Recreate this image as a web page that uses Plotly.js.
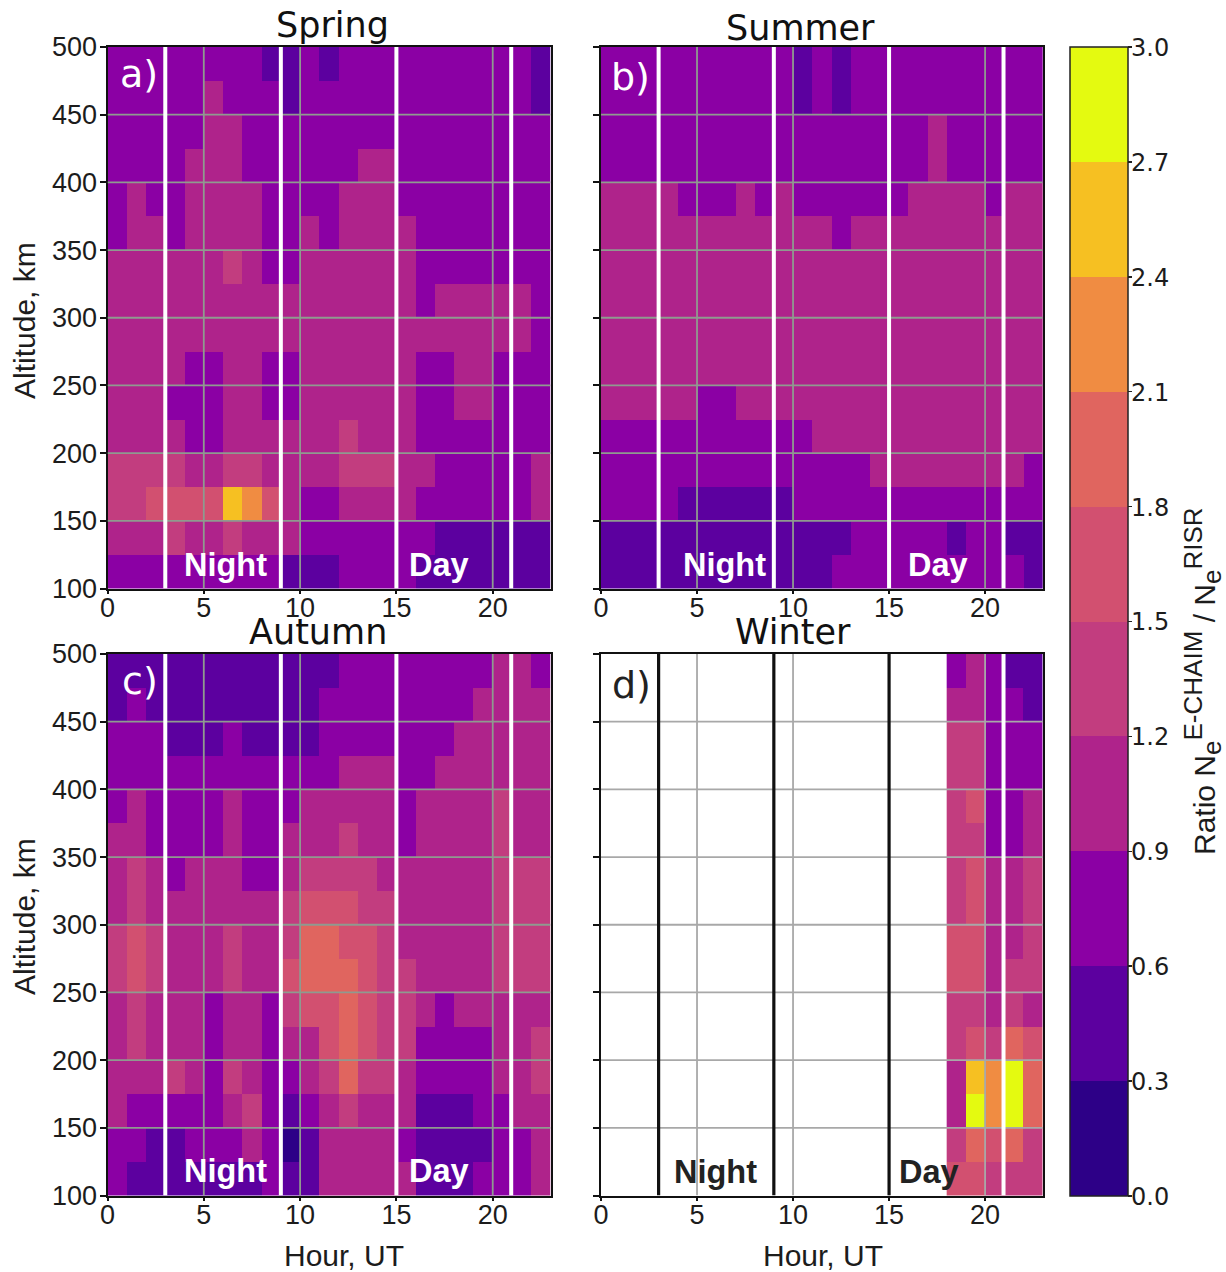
<!DOCTYPE html>
<html>
<head>
<meta charset="utf-8">
<script src="https://cdn.plot.ly/plotly-3.0.1.min.js"></script>
<style>html,body{margin:0;padding:0;background:#fff;overflow:hidden}</style>
</head>
<body>
<div id="chart" style="width:1226px;height:1272px"></div>
<script>
// cell edges
const hourEdges = [0,1,2,3,4,5,6,7,8,9,10,11,12,13,14,15,16,17,18,19,20,21,22,23];
const winterHourEdges = [18,19,20,21,22,23];
const altEdges = [500,475,450,425,400,375,350,325,300,275,250,225,200,175,150,125,100];
const hourTicks = [0,5,10,15,20];
const altTicks = [100,150,200,250,300,350,400,450,500];
const dayNightLines = [3,9,15,20.96];
const ratioTicks = [0,0.3,0.6,0.9,1.2,1.5,1.8,2.1,2.4,2.7,3.0];
const bandColors = ['#2d0087','#5c009f','#8b00a4','#af238b','#c23d7f','#d25070','#e0655f','#f08c42','#f6c022','#e4fa10'];

// ratio per altitude band (top row = 475-500 km), per hour
const spring = [
[.7,.7,.7,.7,.7,.7,.7,.7,.4,.4,.7,.4,.7,.7,.7,.7,.7,.7,.7,.7,.7,.7,.4],
[.7,.7,.7,.7,.7,1,.7,.7,.7,.4,.7,.7,.7,.7,.7,.7,.7,.7,.7,.7,.7,.7,.4],
[.7,.7,.7,.7,.7,1,1,.7,.7,.7,.7,.7,.7,.7,.7,.7,.7,.7,.7,.7,.7,.7,.7],
[.7,.7,.7,.7,1,1,1,.7,.7,.7,.7,.7,.7,1,1,.7,.7,.7,.7,.7,.7,.7,.7],
[.7,1,.7,.7,1,1,1,1,.7,.7,.7,.7,1,1,1,.7,.7,.7,.7,.7,.7,.7,.7],
[.7,1,1,.7,1,1,1,1,.7,.7,1,.7,1,1,1,1,.7,.7,.7,.7,.7,.7,.7],
[1,1,1,1,1,1,1.3,1,.7,.7,1,1,1,1,1,1,.7,.7,.7,.7,.7,.7,.7],
[1,1,1,1,1,1,1,1,1,1,1,1,1,1,1,1,.7,1,1,1,1,1,.7],
[1,1,1,1,1,1,1,1,1,1,1,1,1,1,1,1,1,1,1,1,1,1,.7],
[1,1,1,1,.7,.7,1,1,.7,.7,1,1,1,1,1,1,.7,.7,1,1,.7,.7,.7],
[1,1,1,.7,.7,.7,1,1,.7,.7,1,1,1,1,1,1,.7,.7,1,1,.7,.7,.7],
[1,1,1,1,.7,.7,1,1,1,1,1,1,1.3,1,1,1,.7,.7,.7,.7,.7,.7,.7],
[1.3,1.3,1.3,1.3,1,1,1.3,1.3,1,1,1,1,1.3,1.3,1.3,1,1,.7,.7,.7,.7,.7,1],
[1.3,1.3,1.6,1.6,1.6,1.6,2.5,2.2,1.6,1,.7,.7,1,1,1,1,.7,.7,.7,.7,.7,.7,1],
[1,1,1,1.3,1,1,1.3,1,1,1,.7,.7,.7,.7,.7,.7,.7,.4,.4,.4,.4,.4,.4],
[.7,.7,.7,.7,.7,.7,.7,.7,.7,.4,.4,.4,.7,.7,.7,.7,.4,.4,.4,.4,.4,.4,.4]
];
const summer = [
[.7,.7,.7,.7,.7,.7,.7,.7,.7,.7,.4,.7,.4,.7,.7,.7,.7,.7,.7,.7,.7,.7,.7],
[.7,.7,.7,.7,.7,.7,.7,.7,.7,.7,.4,.7,.4,.7,.7,.7,.7,.7,.7,.7,.7,.7,.7],
[.7,.7,.7,.7,.7,.7,.7,.7,.7,.7,.7,.7,.7,.7,.7,.7,.7,1,.7,.7,.7,.7,.7],
[.7,.7,.7,.7,.7,.7,.7,.7,.7,.7,.7,.7,.7,.7,.7,.7,.7,1,.7,.7,.7,.7,.7],
[1,1,1,1,.7,.7,.7,1,.7,1,.7,.7,.7,.7,.7,.7,1,1,1,1,.7,1,1],
[1,1,1,1,1,1,1,1,1,1,1,1,.7,1,1,1,1,1,1,1,1,1,1],
[1,1,1,1,1,1,1,1,1,1,1,1,1,1,1,1,1,1,1,1,1,1,1],
[1,1,1,1,1,1,1,1,1,1,1,1,1,1,1,1,1,1,1,1,1,1,1],
[1,1,1,1,1,1,1,1,1,1,1,1,1,1,1,1,1,1,1,1,1,1,1],
[1,1,1,1,1,1,1,1,1,1,1,1,1,1,1,1,1,1,1,1,1,1,1],
[1,1,1,1,1,.7,.7,1,1,1,1,1,1,1,1,1,1,1,1,1,1,1,1],
[.7,.7,.7,.7,.7,.7,.7,.7,.7,.7,.7,1,1,1,1,1,1,1,1,1,1,1,1],
[.7,.7,.7,.7,.7,.7,.7,.7,.7,.7,.7,.7,.7,.7,1,1,1,1,1,1,1,1,.7],
[.7,.7,.7,.7,.4,.4,.4,.4,.4,.4,.7,.7,.7,.7,.7,.7,.7,.7,.7,.7,.7,.7,.7],
[.4,.4,.4,.4,.4,.4,.4,.4,.4,.4,.4,.4,.4,.7,.7,.7,.7,.7,.4,.7,.7,.4,.4],
[.4,.4,.4,.4,.4,.4,.4,.4,.4,.4,.4,.4,.7,.7,.7,.7,.7,.7,.7,.7,.7,.7,.4]
];
const autumn = [
[.4,.4,.4,.4,.4,.4,.4,.4,.4,.4,.4,.4,.7,.7,.7,.7,.7,.7,.7,.7,1,1,.7],
[.4,.7,.4,.4,.4,.4,.4,.4,.4,.4,.4,.7,.7,.7,.7,.7,.7,.7,.7,1,1,1,1],
[.7,.7,.7,.4,.4,.4,.7,.4,.4,.4,.4,.7,.7,.7,.7,.7,.7,.7,1,1,1,1,1],
[.7,.7,.7,.7,.7,.7,.7,.7,.7,.7,.7,.7,1,1,1,.7,.7,1,1,1,1,1,1],
[.7,1,.7,.7,.7,.7,1,.7,.7,.7,1,1,1,1,1,.7,1,1,1,1,1.3,1,1],
[1,1,.7,.7,.7,.7,1,.7,.7,1,1,1,1.3,1,1,.7,1,1,1,1,1.3,1,1],
[1,1.3,1,.7,1,1,1,.7,.7,1,1.3,1.3,1.3,1.3,1,1,1,1,1,1,1.3,1.3,1.3],
[1,1.3,1,1,1,1,1,1,1,1.3,1.6,1.6,1.6,1.3,1.3,1,1,1,1,1,1.3,1.3,1.3],
[1.3,1.6,1.3,1,1,1,1.3,1,1,1.3,1.9,1.9,1.6,1.6,1.3,1,1,1,1,1,1.3,1.3,1.3],
[1.3,1.6,1.3,1,1,1,1.3,1,1,1.6,1.9,1.9,1.9,1.6,1.3,1.3,1,1,1,1,1.3,1.3,1.3],
[1,1.3,1,1,1,.7,1,1,.7,1.3,1.6,1.6,1.9,1.6,1.3,1.3,1,.7,1,1,1,1,1],
[1,1.3,1,1,1,.7,1,1,.7,1,1,1.6,1.9,1.6,1.3,1.3,.7,.7,.7,.7,1,1,1.3],
[1,1,1,1.3,1,.7,1.3,1,.7,.7,1,1.3,1.9,1.3,1.3,1,.7,.7,.7,.7,1,1,1.3],
[1,.7,.7,.7,.7,.7,1,1.3,.7,.4,.7,1,1.3,1,1,1,.4,.4,.4,.7,.7,1,1],
[.7,.7,.4,.4,.7,.7,.7,1,.7,.1,.4,1,1,1,1,.7,.4,.4,.4,.4,.7,.7,1],
[.7,.4,.4,.4,.4,.4,.4,.4,.7,.4,.4,1,1,1,1,1,.4,.4,.4,.7,.7,.7,1]
];
// winter only has data from 18 UT onward
const winter = [
[.7,1,.7,.4,.4],
[1,1,.7,.7,.4],
[1.3,1.3,.7,.7,.7],
[1.3,1.3,.7,.7,.7],
[1.3,1.6,.7,.7,1],
[1.3,1.3,.7,.7,1],
[1.3,1.6,1,1,1.3],
[1.3,1.6,1,1,1.3],
[1.6,1.6,1,1,1.3],
[1.6,1.6,1,1.3,1.3],
[1.3,1.3,1,1.3,1],
[1.3,1.6,1.3,1.9,1.6],
[1,2.5,2.2,2.8,1.9],
[1,2.8,2.2,2.8,1.9],
[1.3,1.9,1.6,1.9,1.3],
[1.6,1.6,1.3,1.3,1.3]
];

const W = 1226, H = 1272;
const px = v => v / W, py = v => 1 - v / H;
const SANS = '"Liberation Sans", Arial, sans-serif';
const DEJA = '"DejaVu Sans", sans-serif';
const INK = '#1c1c1c';

const stops = [];
bandColors.forEach((c, i) => { stops.push([i / 10, c]); stops.push([(i + 1) / 10, c]); });

const panels = [
  {z: spring, x: hourEdges, xa: 'x',  ya: 'y',  l: 107.5, r: 550.5, t: 47,  b: 588.5},
  {z: summer, x: hourEdges, xa: 'x2', ya: 'y2', l: 601,   r: 1042.7, t: 47,  b: 588.5},
  {z: autumn, x: hourEdges, xa: 'x3', ya: 'y3', l: 107.5, r: 550.5, t: 654, b: 1195.5},
  {z: winter, x: winterHourEdges, xa: 'x4', ya: 'y4', l: 601, r: 1042.7, t: 654, b: 1195.5}
];

const data = panels.map(p => ({
  type: 'heatmap', z: p.z, x: p.x, y: altEdges, xaxis: p.xa, yaxis: p.ya,
  coloraxis: 'coloraxis', hoverongaps: false
}));

const CB_TOP = 47, CB_LEN = 1149;
const layout = {
  width: W, height: H, margin: {l: 0, r: 0, t: 0, b: 0},
  paper_bgcolor: '#fff', plot_bgcolor: '#fff', showlegend: false,
  coloraxis: {
    cmin: 0, cmax: 3, colorscale: stops,
    colorbar: {
      x: px(1070), xanchor: 'left', xpad: 0, y: py(CB_TOP), yanchor: 'top', ypad: 0,
      thicknessmode: 'pixels', thickness: 58, lenmode: 'pixels', len: CB_LEN,
      outlinewidth: 1.5, outlinecolor: '#222',
      tickmode: 'array', tickvals: ratioTicks, showticklabels: false,
      ticks: 'outside', ticklen: 4, tickwidth: 1.5, tickcolor: '#222'
    }
  },
  shapes: [], annotations: []
};

panels.forEach((p, i) => {
  const sx = i === 0 ? '' : String(i + 1);
  const common = {showgrid: false, zeroline: false, showline: true, mirror: true, linecolor: '#111', linewidth: 2,
    tickwidth: 2, tickcolor: '#111', ticks: 'outside'};
  layout['xaxis' + sx] = Object.assign({}, common, {
    domain: [px(p.l), px(p.r)], range: [0, 23], anchor: 'y' + sx, ticklen: 3, ticklabelstandoff: -9,
    tickmode: 'array', tickvals: hourTicks, tickfont: {family: SANS, size: 27, color: INK}
  });
  layout['yaxis' + sx] = Object.assign({}, common, {
    domain: [py(p.b), py(p.t)], range: [100, 500], anchor: 'x' + sx, ticklen: 6, ticklabelstandoff: -3,
    tickmode: 'array', tickvals: altTicks, showticklabels: i % 2 === 0,
    tickfont: {family: SANS, size: 27, color: INK}
  });
  const gridColor = i === 3 ? '#a8a8a8' : '#8f9a8f';
  hourTicks.slice(1).forEach(h => layout.shapes.push({type: 'line', xref: p.xa, yref: p.ya, x0: h, x1: h, y0: 100, y1: 500,
    layer: 'above', line: {color: gridColor, width: 1.8}}));
  altTicks.slice(1, -1).forEach(a => layout.shapes.push({type: 'line', xref: p.xa, yref: p.ya, x0: 0, x1: 23, y0: a, y1: a,
    layer: 'above', line: {color: gridColor, width: 1.8}}));
  dayNightLines.forEach((h, k) => {
    const dark = i === 3 && k < 3;
    layout.shapes.push({type: 'line', xref: p.xa, yref: p.ya, x0: h, x1: h, y0: 100, y1: 500,
      layer: 'above', line: {color: dark ? '#111' : '#fff', width: dark ? 3.2 : 4}});
  });
});

function note(text, x, y, size, family, color, extra) {
  layout.annotations.push(Object.assign({text, xref: 'paper', yref: 'paper', x: px(x), y: py(y),
    xanchor: 'center', yanchor: 'middle', showarrow: false, font: {family, size, color}}, extra || {}));
}
note('Spring', 332, 25, 35, DEJA, '#111');
note('Summer', 801, 28, 35, DEJA, '#111');
note('Autumn', 318, 632, 35, DEJA, '#111');
note('Winter', 793, 632, 35, DEJA, '#111');
note('a)', 139, 74, 38, DEJA, '#fff');
note('b)', 630, 77, 38, DEJA, '#fff');
note('c)', 140, 681, 38, DEJA, '#fff');
note('d)', 631, 685, 38, DEJA, '#222');
const B = t => '<b>' + t + '</b>';
note(B('Night'), 225, 565, 32.5, SANS, '#fff');
note(B('Day'), 439, 565, 32.5, SANS, '#fff');
note(B('Night'), 724, 565, 32.5, SANS, '#fff');
note(B('Day'), 938, 565, 32.5, SANS, '#fff');
note(B('Night'), 225, 1171, 32.5, SANS, '#fff');
note(B('Day'), 439, 1171, 32.5, SANS, '#fff');
note(B('Night'), 715, 1172, 32.5, SANS, '#222');
note(B('Day'), 929, 1172, 32.5, SANS, '#222');
note('Altitude, km', 24, 321, 30, SANS, INK, {textangle: -90});
note('Altitude, km', 24, 917, 30, SANS, INK, {textangle: -90});
note('Hour, UT', 344, 1255.5, 30, SANS, INK);
note('Hour, UT', 823, 1255.5, 30, SANS, INK);
ratioTicks.forEach(v => {
  note(v.toFixed(1), 1150, CB_TOP + 1 + CB_LEN * (1 - v / 3), 24, DEJA, INK);
});
const big = t => '<span style="font-size:26px">' + t + '</span>';
note('Ratio N<sub>' + big('e') + '</sub><sup>' + big('E-CHAIM') + '</sup> / N<sub>' + big('e') + '</sub><sup>' + big('RISR') + '</sup>',
     1202, 681, 30, SANS, INK, {textangle: -90});

Plotly.newPlot('chart', data, layout, {displayModeBar: false, staticPlot: true});
</script>
</body>
</html>
